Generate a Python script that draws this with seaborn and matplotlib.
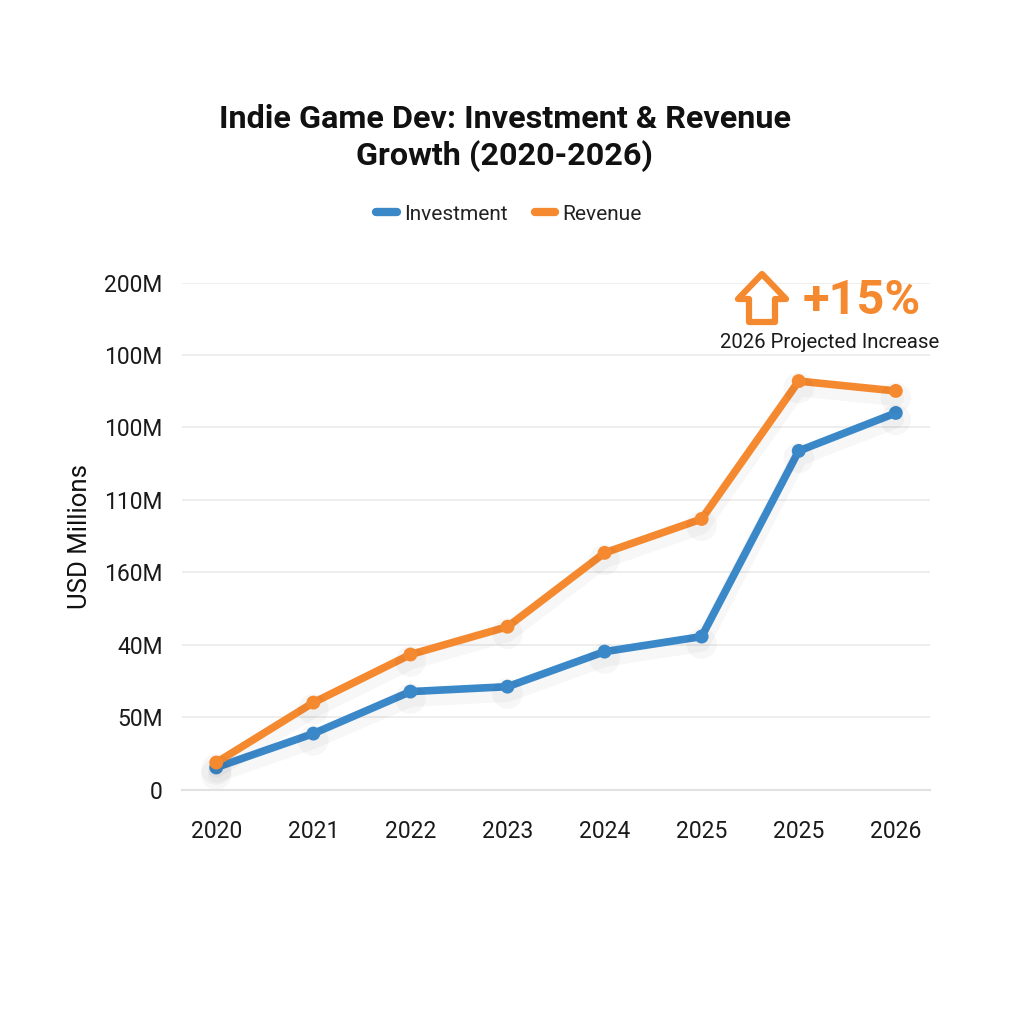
import pandas as pd
import numpy as np
import matplotlib
matplotlib.use("Agg")
import matplotlib.pyplot as plt
import matplotlib.patheffects as pe
from matplotlib.lines import Line2D
from matplotlib.patches import Polygon
import seaborn as sns

# Dados
years = ["2020", "2021", "2022", "2023", "2024", "2025", "2025", "2026"]
investment = [7.6, 19.3, 33.8, 35.5, 47.6, 52.8, 116.9, 130.0]
revenue = [9.3, 30.0, 46.6, 56.2, 81.7, 93.4, 141.0, 137.6]
y_ticks = [0, 25, 50, 75, 100, 125, 150, 175]
y_labels = ["0", "50M", "40M", "160M", "110M", "100M", "100M", "200M"]

BLUE = "#3b88c9"
ORANGE = "#f5892f"

sns.set_theme(style="white")
plt.rcParams["font.family"] = ["Roboto", "DejaVu Sans"]

df = pd.DataFrame({
    "slot": list(range(len(years))) * 2,
    "value": investment + revenue,
    "series": ["Investment"] * len(years) + ["Revenue"] * len(years),
})

fig = plt.figure(figsize=(10.24, 10.24), dpi=100)
ax = fig.add_axes([0.178, 0.229, 0.73, 0.495])

shadow = [pe.SimpleLineShadow(offset=(0, -5), shadow_color="#000000", alpha=0.03, linewidth=12), pe.Normal()]
sns.lineplot(data=df, x="slot", y="value", hue="series", palette={"Investment": BLUE, "Revenue": ORANGE},
             marker="o", markersize=10, markeredgewidth=0, linewidth=5.5, legend=False, ax=ax,
             solid_capstyle="round", solid_joinstyle="round")
for ln in ax.get_lines():
    ln.set_path_effects(shadow)

ax.set_xlim(-0.35, 7.35)
ax.set_ylim(0, 175)
ax.set_yticks(y_ticks)
ax.set_yticklabels(y_labels)
ax.set_xticks(range(len(years)))
ax.set_xticklabels(years)
ax.tick_params(axis="y", length=0, pad=14, labelsize=16.5, labelcolor="#1a1a1a")
ax.tick_params(axis="x", length=9, width=1, color="#e2e2e2", pad=13, labelsize=16.5, labelcolor="#1a1a1a")
ax.grid(axis="y", color="#ebebeb", linewidth=1.2)
ax.set_axisbelow(True)
for s in ["top", "right", "left"]:
    ax.spines[s].set_visible(False)
ax.spines["bottom"].set_color("#e2e2e2")
ax.spines["bottom"].set_linewidth(1.5)
ax.set_xlabel("")
ax.set_ylabel("USD Millions", fontsize=18.5, color="#111111", labelpad=9)

fig.text(0.493, 0.865, "Indie Game Dev: Investment & Revenue\nGrowth (2020-2026)", ha="center", va="center",
         fontsize=23.3, fontweight="bold", linespacing=1.25, color="#111111")

handles = [Line2D([0], [0], color=BLUE, lw=6, solid_capstyle="round"),
           Line2D([0], [0], color=ORANGE, lw=6, solid_capstyle="round")]
fig.legend(handles, ["Investment", "Revenue"], loc="center", bbox_to_anchor=(0.497, 1 - 214 / 1024), ncol=2,
           frameon=False, fontsize=15, handlelength=1.0, handletextpad=0.35, columnspacing=1.3,
           labelcolor="#222222")

# ícone de seta vazada
cx, top, bot = 762 / 1024, 1 - 274 / 1024, 1 - 322 / 1024
hw, sw, mid = 24 / 1024, 13 / 1024, 1 - 299 / 1024
arrow = Polygon([(cx, top), (cx + hw, mid), (cx + sw, mid), (cx + sw, bot), (cx - sw, bot), (cx - sw, mid),
                 (cx - hw, mid)], closed=True, fill=False, edgecolor=ORANGE, linewidth=4.5,
                transform=fig.transFigure, joinstyle="round")
fig.add_artist(arrow)
fig.text(862 / 1024, 1 - 301 / 1024, "+15%", ha="center", va="center", fontsize=35, fontweight="bold",
         color=ORANGE)
fig.text(830 / 1024, 1 - 343 / 1024, "2026 Projected Increase", ha="center", va="center", fontsize=14.7,
         color="#1a1a1a")

fig.savefig("out.png", dpi=100)
